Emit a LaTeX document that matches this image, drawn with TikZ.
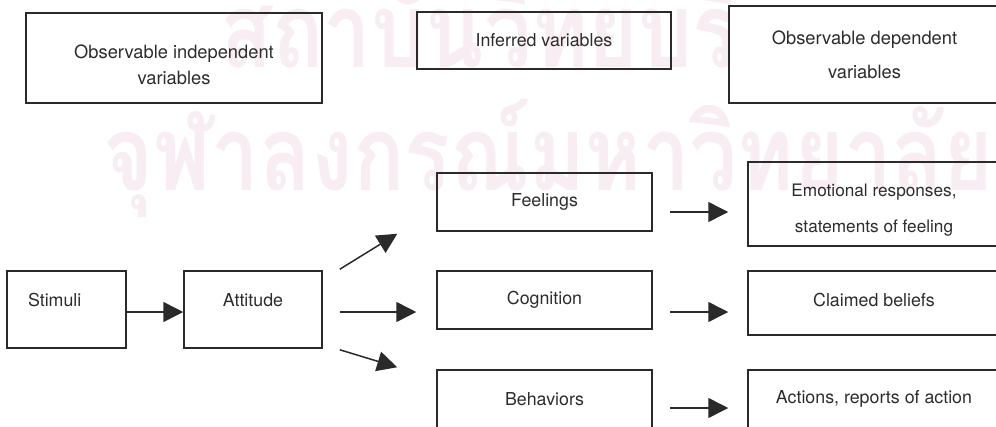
\documentclass[tikz,border=0pt]{standalone}
\usepackage{fontspec}
\usepackage{graphicx}
\setmainfont{TeX Gyre Heros}
\newfontfamily\thaifont[Script=Thai]{Loma}
\usetikzlibrary{arrows.meta,calc}
\definecolor{ink}{HTML}{2A2A2A}
\definecolor{txt}{HTML}{2C2C2C}
\definecolor{wmark}{rgb}{0.97,0.93,0.95}

\begin{document}
\begin{tikzpicture}[x=1pt,y=-1pt,
  box/.style={draw=ink, line width=1.5pt, inner sep=0pt, text=txt,
              font=\fontsize{17.8}{26}\selectfont, align=center},
  arr/.style={draw=ink, line width=1.5pt, -{Triangle[length=20pt,width=20pt]}},
  wm/.style={inner sep=0pt, anchor=base west,
             font=\thaifont\bfseries\fontsize{104}{104}\selectfont}]
\useasboundingbox (0,0) rectangle (996,426);

% background watermark
\node[wm] (wm1) at (220,67)
  {\color{wmark}\scalebox{0.82}[1]{\color{wmark}สถาบันวิทยบริการ}};
\node[wm] (wm2) at (103,190)
  {\color{wmark}\scalebox{0.82}[1]{\color{wmark}จุฬาลงกรณ์มหาวิทยาลัย}};

% column headings
\node[box, minimum width=296pt, minimum height=90pt,
      font=\fontsize{18.3}{26}\selectfont] (indep) at (174,58)
  {\rule{0pt}{26.7pt}Observable independent\\variables};
\node[box, minimum width=254pt, minimum height=57pt] (infer) at (544,40.5)
  {Inferred variables};
\node[box, fill=white, minimum width=271pt, minimum height=97pt,
      font=\fontsize{18.3}{34}\selectfont] (dep) at (864.5,54.5)
  {Observable dependent\\variables};

% stimulus and attitude
\node[box, minimum width=119pt, minimum height=77pt, text width=77pt, align=left,
      text height=12.5pt, text depth=19pt] (stim) at (66.5,309.5) {Stimuli};
\node[box, minimum width=138pt, minimum height=77pt,
      text height=12.5pt, text depth=19pt] (att) at (253,309.5) {Attitude};

% inferred components
\node[box, minimum width=215pt, minimum height=58pt] (feel) at (544.5,202) {Feelings};
\node[box, minimum width=215pt, minimum height=58pt] (cog) at (544.5,300) {Cognition};
\node[box, minimum width=215pt, minimum height=58pt] (beh) at (544.5,399) {Behaviors};

% observable responses
\node[box, minimum width=252pt, minimum height=84pt,
      font=\fontsize{17.2}{36}\selectfont] (emo) at (874,204)
  {\rule{0pt}{25.7pt}Emotional responses,\\statements of feeling};
\node[box, minimum width=252pt, minimum height=64pt,
      text height=12.7pt, text depth=6.7pt] (claim) at (874,303) {Claimed beliefs};
\node[box, minimum width=252pt, minimum height=58pt] (act) at (874,399)
  {Actions, reports of action};

% connectors
\draw[arr] ([yshift=-2.5pt]stim.east) -- ([yshift=-2.5pt]att.west);
\draw[arr] ($(att.north east)+(17,-1)$) -- ($(feel.south west)+(-39,2)$);
\draw[arr] ($(att.east)+(17,2.5)$) -- ($(cog.west)+(-20,12)$);
\draw[arr] ($(att.south east)+(17,1)$) -- ($(beh.north west)+(-39,-2)$);
\draw[arr] ($(feel.east)+(17,10)$) -- ($(emo.west)+(-19,8)$);
\draw[arr] ($(cog.east)+(17,12)$) -- ($(claim.west)+(-19,9)$);
\draw[arr] ($(beh.east)+(17,9)$) -- ($(act.west)+(-19,9)$);
\end{tikzpicture}
\end{document}
